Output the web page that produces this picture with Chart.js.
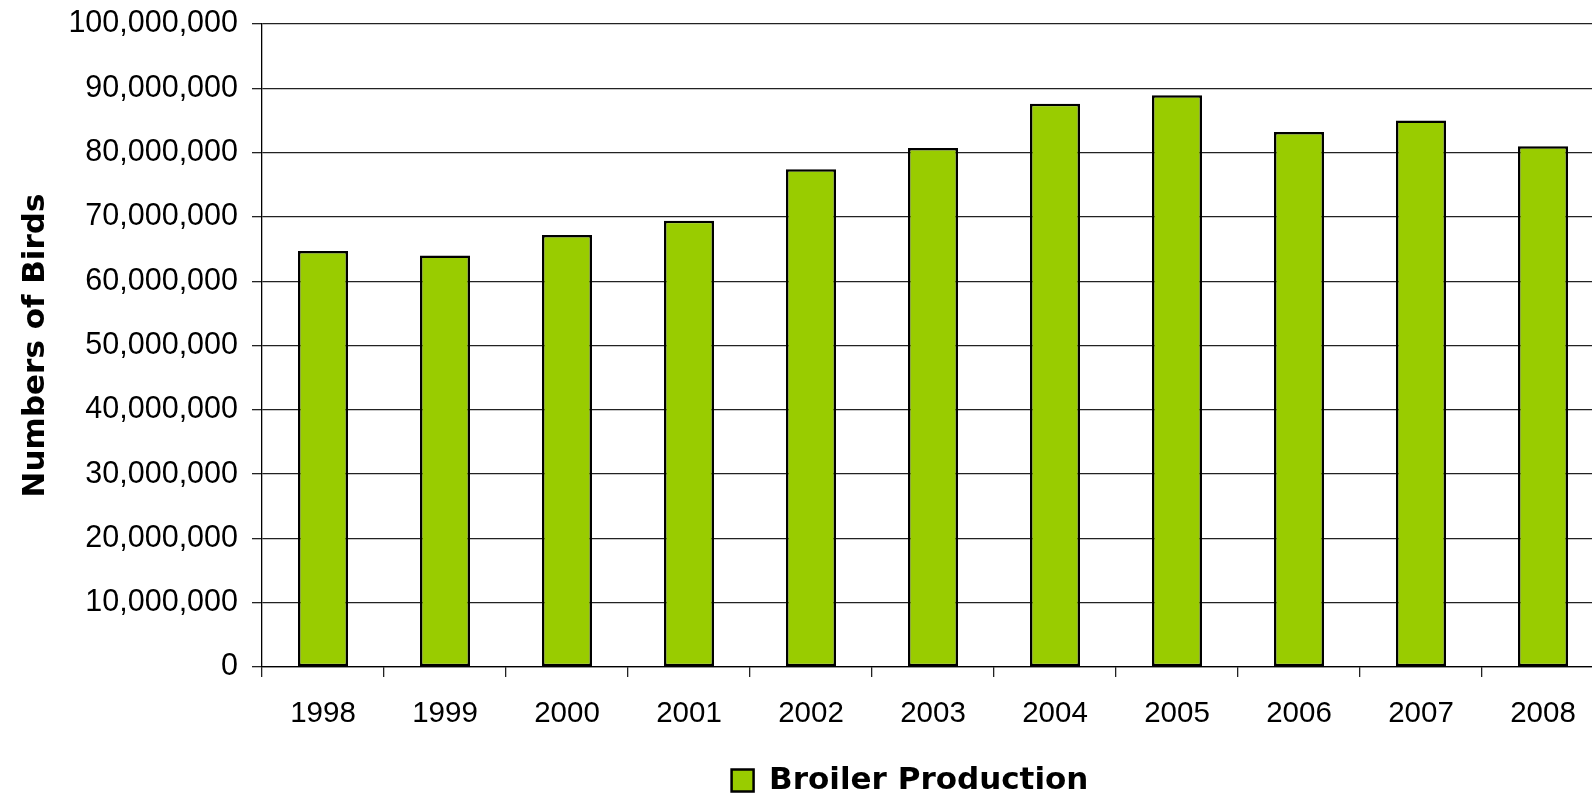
<!DOCTYPE html>
<html>
<head>
<meta charset="utf-8">
<title>Broiler Production</title>
<script src="https://cdn.jsdelivr.net/npm/chart.js@4.4.1/dist/chart.umd.min.js"></script>
<style>
  html, body { margin: 0; padding: 0; background: #fff; overflow: hidden; }
  #wrap { width: 1610px; height: 806px; }
</style>
</head>
<body>
<div id="wrap"><canvas id="broilers" width="1610" height="806"></canvas></div>
<script>
// yearly broiler numbers
const years = ['1998', '1999', '2000', '2001', '2002', '2003', '2004', '2005', '2006', '2007', '2008'];
const broilerBirds = [64700000, 64000000, 67200000, 69400000, 77400000, 80700000, 87600000, 88900000, 83200000, 85000000, 81000000];
const yMax = 100000000;
const yStep = 10000000;

Chart.defaults.font.family = "'Liberation Sans', Arial, sans-serif";
Chart.defaults.color = '#000';

const boldFont = { family: "'DejaVu Sans', sans-serif", size: 31, weight: 'bold' };

// push the legend over so it sits under the middle of the bars
const legendNudge = {
    id: 'legendNudge',
    afterLayout(chart) {
        chart.legend.left += 108;
        chart.legend.right += 108;
    }
};

const ctx = document.getElementById('broilers').getContext('2d');
new Chart(ctx, {
    type: 'bar',
    data: {
        labels: years,
        datasets: [{
            label: 'Broiler Production',
            data: broilerBirds,
            backgroundColor: '#99cc00',
            borderColor: '#000',
            borderWidth: 2.5,
            borderSkipped: false,
            barPercentage: 0.41,
            categoryPercentage: 1.0
        }]
    },
    options: {
        responsive: false,
        animation: false,
        layout: { padding: { top: 24, right: 6, left: 0, bottom: 0 } },
        plugins: {
            tooltip: { enabled: false },
            legend: {
                position: 'bottom',
                labels: {
                    boxWidth: 22,
                    boxHeight: 22,
                    padding: 10,
                    color: '#000',
                    font: boldFont
                }
            }
        },
        scales: {
            x: {
                ticks: { padding: 19, color: '#000', font: { size: 29.5 } },
                grid: { display: true, drawOnChartArea: false, drawTicks: true, tickLength: 10, color: '#222', lineWidth: 1.3, offset: true },
                border: { color: '#000', width: 1.3 },
                afterFit(scale) { scale.height = 88; }
            },
            y: {
                min: 0,
                max: yMax,
                ticks: {
                    stepSize: yStep,
                    padding: 14,
                    color: '#000',
                    font: { size: 30.5 },
                    callback: v => v.toLocaleString('en-US')
                },
                grid: { color: '#222', lineWidth: 1.3, tickLength: 10 },
                border: { color: '#000', width: 1.3 },
                title: {
                    display: true,
                    text: 'Numbers of Birds',
                    color: '#000',
                    font: boldFont,
                    padding: { top: 17, bottom: 0 }
                },
                afterFit(scale) {
                    scale.width = 262;
                    // top label may overhang; layout padding already leaves room
                    scale.paddingTop = 0;
                }
            }
        }
    },
    plugins: [legendNudge]
});
</script>
</body>
</html>
